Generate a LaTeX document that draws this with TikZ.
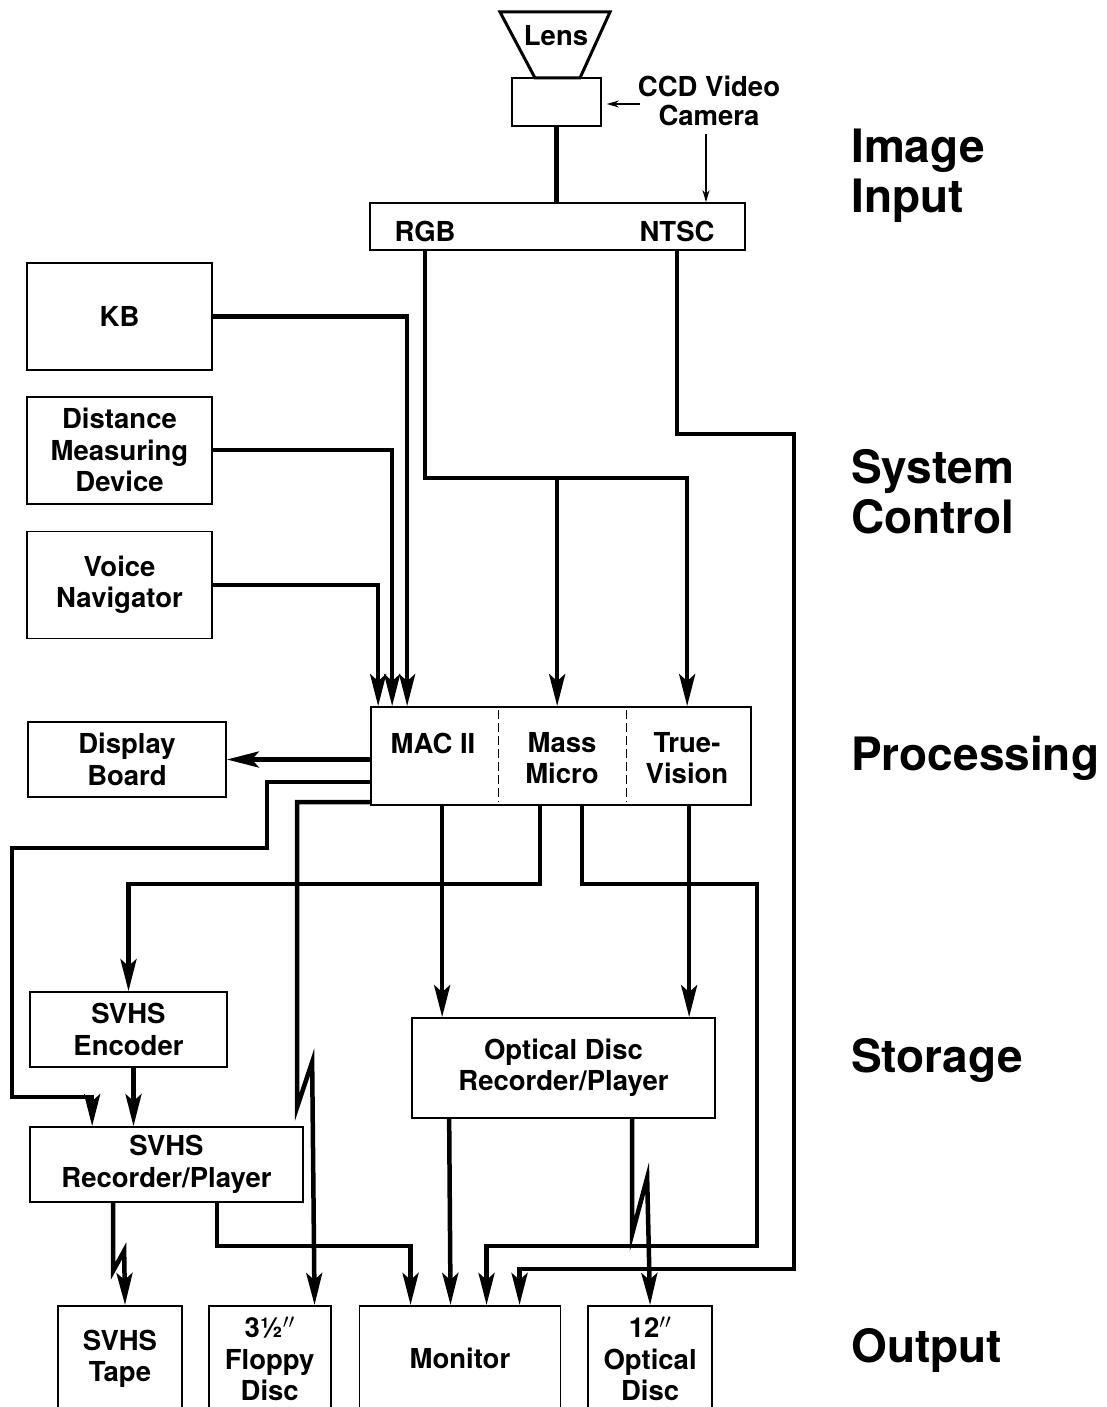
\documentclass[tikz,border=0pt]{standalone}
\usepackage{fontspec}
\setmainfont{TeX Gyre Heros}
\usepackage{tikz}
\usetikzlibrary{arrows.meta, positioning, calc}

\begin{document}
\begin{tikzpicture}[
  x=1pt, y=-1pt,
  node distance = 25pt and 26pt,
  box/.style     = {rectangle, draw, line width=1.7pt, inner sep=0pt,
                    minimum width=#1, align=center,
                    font=\fontsize{27.5}{31.5}\selectfont\bfseries},
  txt/.style     = {inner sep=0pt, align=center,
                    font=\fontsize{27.5}{31.5}\selectfont\bfseries},
  stage/.style   = {anchor=west, inner sep=0pt, align=left,
                    font=\fontsize{46}{50}\selectfont\bfseries},
  wire/.style    = {line width=4.5pt},
  arr/.style     = {-{Stealth[length=32pt, width=16pt, inset=7pt]}, line width=4.5pt},
  thinarr/.style = {-{Stealth[length=12pt, width=7pt]}, line width=1.5pt},
  divider/.style = {line width=1.3pt, dash pattern=on 9pt off 4pt},
]
\useasboundingbox (0,0) rectangle (1106,1407);

% image input
\node[txt] (lens) at (556,36) {Lens};
\draw[line width=3pt] (500,12) -- (610,12) -- (580,78) -- (535,78) -- cycle;
\node[box=89pt, minimum height=48pt] (cam) at (556.5,102) {};
\node[txt, font=\fontsize{27.5}{29}\selectfont\bfseries] (ccd) at (709,101) {CCD Video\\Camera};
\node[box=375pt, minimum height=47pt] (io) at (557.5,226.5) {};
\node[txt] (rgb)  at (425,231) {RGB};
\node[txt] (ntsc) at (677,231) {NTSC};

% system control
\node[box=185pt, minimum height=107pt] (kb) at (119.5,316.5) {KB};
\node[box=185pt, minimum height=107pt, below=of kb]      (dist)  {Distance\\Measuring\\Device};
\node[box=185pt, minimum height=107pt, below=26pt of dist] (voice) {Voice\\Navigator};

% processing
\node[box=380pt, minimum height=98pt] (mac) at (561,756) {};
\node[txt] (macii) at (433,743) {MAC II};
\node[txt] (mass)  at (562,758) {Mass\\Micro};
\node[txt] (tv)    at (687,758) {True-\\Vision};
\draw[divider] ([xshift=128pt,yshift=-4pt]mac.north west) -- ([xshift=128pt,yshift=4pt]mac.south west);
\draw[divider] ([xshift=256pt,yshift=-4pt]mac.north west) -- ([xshift=256pt,yshift=4pt]mac.south west);
\node[box=198pt, minimum height=75pt] (display) at (127,759.5) {Display\\Board};

% storage
\node[box=197pt, minimum height=75pt]  (enc)  at (128.5,1029.5) {SVHS\\Encoder};
\node[box=273pt, minimum height=75pt]  (svhs) at (166.5,1164.5) {SVHS\\Recorder/Player};
\node[box=303pt, minimum height=100pt] (odr)  at (563.5,1068)   {Optical Disc\\Recorder/Player};

% output
\node[box=124pt, minimum height=106pt, anchor=north] (tape) at (120,1305) {SVHS\\Tape};
\node[box=122pt, minimum height=106pt, right=25pt of tape]    (floppy)  {3½$''$\\Floppy\\Disc};
\node[box=201pt, minimum height=106pt, right=27pt of floppy]  (monitor) {Monitor};
\node[box=124pt, minimum height=106pt, right=26pt of monitor] (optdisc) {12$''$\\Optical\\Disc};

% stage names
\node[stage] (sinput) at (851,176)  {Image\\Input};
\node[stage] (sctrl)  at (851,492)  {System\\Control};
\node[stage] (sproc)  at (851,758)  {Processing};
\node[stage] (sstore) at (851,1060) {Storage};
\node[stage] (sout)   at (851,1350) {Output};

% connectors
\draw[wire] (cam.south) -- (cam.south |- io.north);
\draw[thinarr] ([xshift=2pt,yshift=-3pt]ccd.west) -- ([xshift=5pt,yshift=-3pt]ccd.west -| cam.east);
\draw[thinarr] ([xshift=-3pt,yshift=-8pt]ccd.south) -- ([xshift=-3pt]ccd.south |- io.north);

\coordinate (mmin)    at ([xshift=187pt]mac.north west);
\coordinate (tvin)    at ([xshift=317pt]mac.north west);
\coordinate (rgbjoin) at ($(io.south -| rgb)+(0,227)$);
\draw[arr] (io.south -| rgb) -- (rgbjoin) -| (tvin);
\draw[arr] (rgbjoin) -| (mmin);
\draw[arr] (io.south -| ntsc) -- ++(0,183) -| ++(117,835) -| ([xshift=161pt]monitor.north west);

\draw[arr] (kb.east)    -| ([xshift=37pt]mac.north west);
\draw[arr] (dist.east)  -| ([xshift=22pt]mac.north west);
\draw[arr] (voice.east) -| ([xshift=8pt]mac.north west);

\draw[arr] (mac.west |- display.east) -- (display.east);
\draw[arr] ([yshift=-26pt]mac.west) -- ++(-103,0) -- ++(0,66) -| ++(-255,249) -| ([xshift=63pt]svhs.north west);
\draw[arr] ([yshift=-46pt]mac.west) -| ++(-73,305) -- ++(15,-45) -- ([xshift=-17pt]floppy.north east);

\coordinate (macout1) at ([xshift=72pt]mac.south west);
\coordinate (macout4) at ([xshift=319pt]mac.south west);
\draw[arr] (macout1) -- (macout1 |- odr.north);
\draw[arr] ([xshift=170pt]mac.south west) -- ++(0,78) -| (enc.north);
\draw[arr] ([xshift=212pt]mac.south west) -- ++(0,78) -| ++(175,362) -| ([xshift=128pt]monitor.north west);
\draw[arr] (macout4) -- (macout4 |- odr.north);

\draw[arr] ([xshift=5pt]enc.south) -- ([xshift=5pt]enc.south |- svhs.north);
\draw[arr] ([xshift=188pt]svhs.south west) -- ++(0,43) -| ([xshift=52pt]monitor.north west);
\draw[arr] ([xshift=84pt]svhs.south west) -- ++(0,68) -- ++(11,-20) -- ([xshift=5pt]tape.north);
\draw[arr] ([xshift=38pt]odr.south west) -- ([xshift=92pt]monitor.north west);
\draw[arr] ([xshift=221pt]odr.south west) -- ++(0,115) -- ++(15,-56) -- (optdisc.north);
\end{tikzpicture}
\end{document}
